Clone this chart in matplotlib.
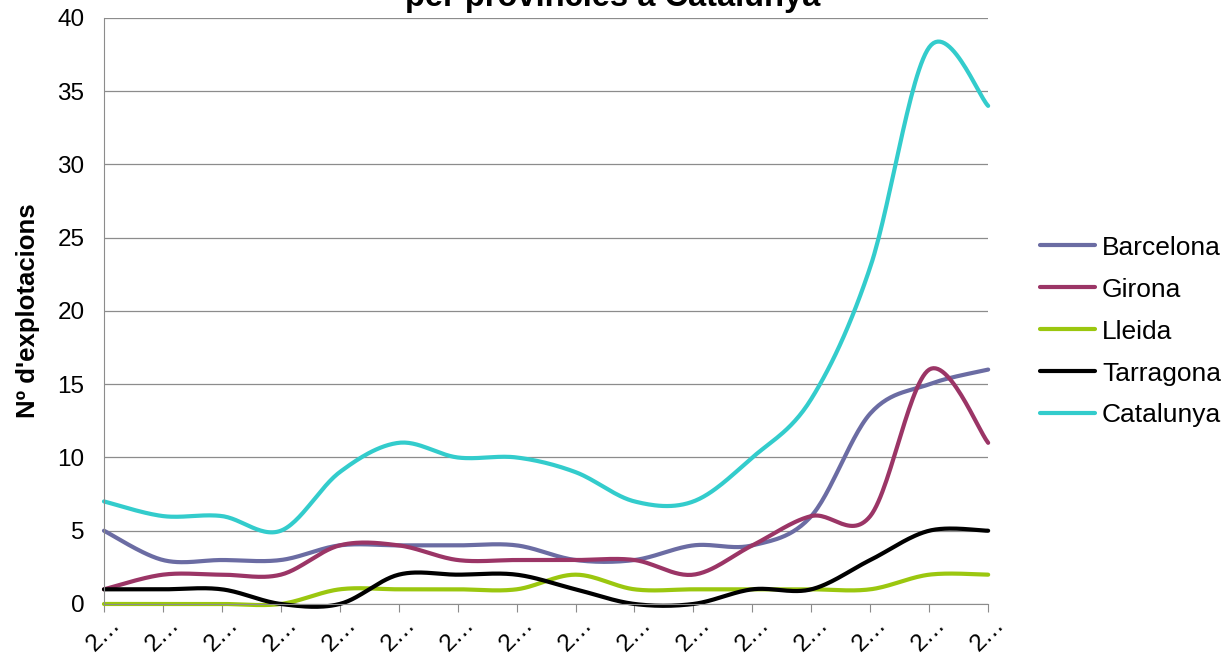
import matplotlib

matplotlib.use("Agg")
import matplotlib.pyplot as plt  # noqa: E402
import numpy as np  # noqa: E402

plt.rcParams["font.family"] = ["Liberation Sans", "DejaVu Sans"]

years = [str(y) for y in range(2000, 2016)]
tick_labels = [y[0] + "\u2026" for y in years]  # truncated like the original axis

barcelona = [5, 3, 3, 3, 4, 4, 4, 4, 3, 3, 4, 4, 6, 13, 15, 16]
girona = [1, 2, 2, 2, 4, 4, 3, 3, 3, 3, 2, 4, 6, 6, 16, 11]
lleida = [0, 0, 0, 0, 1, 1, 1, 1, 2, 1, 1, 1, 1, 1, 2, 2]
tarragona = [1, 1, 1, 0, 0, 2, 2, 2, 1, 0, 0, 1, 1, 3, 5, 5]
catalunya = [7, 6, 6, 5, 9, 11, 10, 10, 9, 7, 7, 10, 14, 23, 38, 34]

series = [
    ("Barcelona", barcelona, "#6b6ca3"),
    ("Girona", girona, "#9b3566"),
    ("Lleida", lleida, "#9bc70f"),
    ("Tarragona", tarragona, "#000000"),
    ("Catalunya", catalunya, "#33cccc"),
]


def smooth(x, y, steps=30):
    # Catmull-Rom style curve through the points, like Excel's smoothed lines
    x = np.asarray(x, float)
    y = np.asarray(y, float)
    px = np.concatenate([[x[0]], x, [x[-1]]])
    py = np.concatenate([[y[0]], y, [y[-1]]])
    xs, ys = [], []
    t = np.linspace(0, 1, steps)
    for i in range(1, len(px) - 2):
        p0, p1, p2, p3 = (np.array([px[j], py[j]]) for j in (i - 1, i, i + 1, i + 2))
        c1 = p1 + (p2 - p0) / 6
        c2 = p2 - (p3 - p1) / 6
        b = (
            ((1 - t) ** 3)[:, None] * p1
            + (3 * (1 - t) ** 2 * t)[:, None] * c1
            + (3 * (1 - t) * t ** 2)[:, None] * c2
            + (t ** 3)[:, None] * p2
        )
        xs.append(b[:, 0])
        ys.append(b[:, 1])
    return np.concatenate(xs), np.concatenate(ys)


fig = plt.figure(figsize=(12.26, 6.54), dpi=100)
ax = fig.add_axes([0.0848, 0.0765, 0.7212, 0.896])

x = np.arange(len(years))
for name, vals, color in series:
    sx, sy = smooth(x, vals)
    ax.plot(sx, sy, color=color, lw=3, label=name, solid_capstyle="round", clip_on=False)

ax.set_xlim(0, len(years) - 1)
ax.set_ylim(0, 40)
ax.set_yticks(range(0, 41, 5))
ax.yaxis.grid(True, color="#8c8c8c", lw=0.9)
ax.set_axisbelow(True)
for side in ("top", "right"):
    ax.spines[side].set_visible(False)
ax.spines["left"].set_color("#8c8c8c")
ax.spines["bottom"].set_color("#8c8c8c")
ax.tick_params(axis="y", length=0, labelsize=17.5, pad=14)
ax.tick_params(axis="x", length=6, color="#8c8c8c", labelsize=17.5, pad=1)
ax.set_xticks(x)
ax.set_xticklabels(tick_labels, rotation=45, ha="center")
ax.set_ylabel("Nº d'explotacions", fontsize=18.5, fontweight="bold")
ax.yaxis.set_label_coords(-0.0724, 0.5)

# title sits partly above the canvas, as in the original export
fig.text(0.5, (654 - 13) / 654, "Evolució del nombre d'explotacions\nper províncies a Catalunya",
         ha="center", va="bottom", fontsize=23.5, fontweight="bold", linespacing=1.1)

fig.legend(loc="center left", bbox_to_anchor=(1040 / 1226, 0.493), frameon=False,
           fontsize=19, handlelength=2.1, labelspacing=0.68, handletextpad=0.25,
           borderpad=0, borderaxespad=0)

fig.savefig("out.png")
plt.close(fig)
